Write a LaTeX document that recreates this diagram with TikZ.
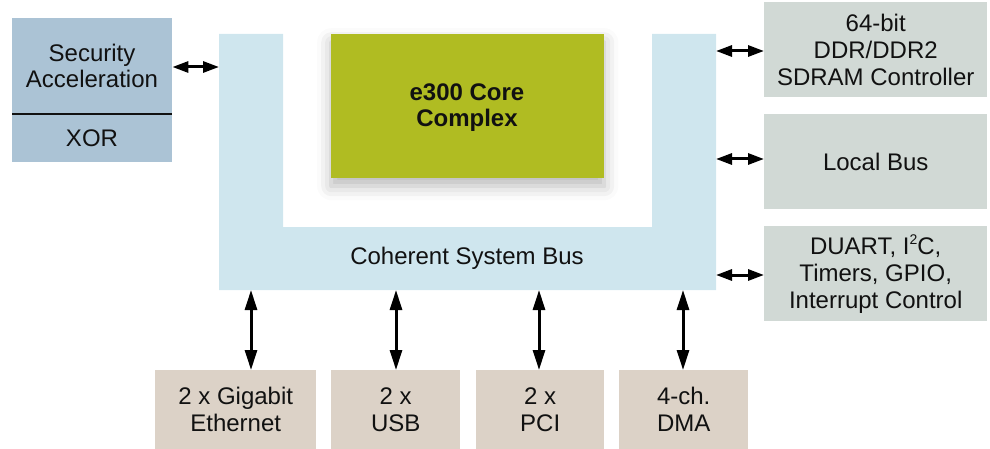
\documentclass[tikz,border=0pt]{standalone}
\usepackage{fontspec}
\setmainfont{Liberation Sans}
\usetikzlibrary{arrows.meta,shadows.blur}
\definecolor{secblue}{HTML}{ABC3D5}
\definecolor{buscol}{HTML}{CFE6EE}
\definecolor{corecol}{HTML}{B0BC22}
\definecolor{rightcol}{HTML}{D1D9D5}
\definecolor{botcol}{HTML}{DCD2C7}
\definecolor{txt}{HTML}{111111}
\newcommand{\mysup}[1]{\raisebox{0.42em}{\fontsize{14}{14}\selectfont #1}}
\tikzset{
  blk/.style={anchor=north west, inner sep=0pt, align=center, text=txt,
    font=\fontsize{24}{27}\selectfont},
  rbox/.style={blk, fill=rightcol, minimum width=223pt, minimum height=95pt},
  bbox/.style={blk, fill=botcol, minimum height=79pt},
  harrow/.style={line width=3pt, {Triangle[length=16pt,width=11pt]}-{Triangle[length=16pt,width=11pt]}},
  varrow/.style={line width=3pt, {Triangle[length=20pt,width=12pt]}-{Triangle[length=20pt,width=12pt]}},
}
\begin{document}
\begin{tikzpicture}[x=1pt,y=-1pt]
\useasboundingbox (0,0) rectangle (990,449);
% security block
\node[blk, fill=secblue, minimum width=160pt, minimum height=144pt] (sec) at (12,18) {};
\node[blk, anchor=center, font=\fontsize{24}{26}\selectfont] (sectxt) at (92,66) {Security\\Acceleration};
\node[blk, anchor=center] (xor) at (92,138) {XOR};
\draw[line width=2.7pt, txt] (sec.west |- 0,114) -- (sec.east |- 0,114);
% coherent system bus (U shape)
\fill[buscol] (219,34) -- (283,34) -- (283,227) -- (652,227) -- (652,34) -- (716,34)
  -- (716,290) -- (219,290) -- cycle;
\node[blk, anchor=center] (bus) at (467,258) {Coherent System Bus};
% core
\node[blk, fill=corecol, minimum width=273pt, minimum height=144pt,
  blur shadow={shadow xshift=0pt, shadow yshift=-8pt, shadow blur radius=14pt, shadow opacity=28}]
  (core) at (331,34) {};
\node[blk, anchor=center, font=\fontsize{24}{26}\bfseries\selectfont] (coretxt) at (467,108) {e300 Core\\Complex};
% right blocks
\node[rbox] (ddr) at (764,2) {64-bit\\DDR/DDR2\\SDRAM Controller};
\node[rbox] (lbus) at (764,114) {Local Bus};
\node[rbox] (duart) at (764,226) {DUART, I\mysup{2}C,\\Timers, GPIO,\\Interrupt Control};
% bottom blocks
\node[bbox, minimum width=161pt] (eth) at (155,370) {2 x Gigabit\\Ethernet};
\node[bbox, minimum width=129pt] (usb) at (331,370) {2 x\\USB};
\node[bbox, minimum width=128pt] (pci) at (476,370) {2 x\\PCI};
\node[bbox, minimum width=129pt] (dma) at (619,370) {4-ch.\\DMA};
% bus attachment points
\coordinate (busL) at (219,67);
\coordinate (busR1) at (716,51);
\coordinate (busR2) at (716,159);
\coordinate (busR3) at (716,275);
\coordinate (busB1) at (251,290);
\coordinate (busB2) at (396,290);
\coordinate (busB3) at (539,290);
\coordinate (busB4) at (683,290);
% connectors
\draw[harrow] (sec.east |- busL) -- (busL);
\draw[harrow] (busR1) -- (ddr.west |- busR1);
\draw[harrow] (busR2) -- (lbus.west |- busR2);
\draw[harrow] (busR3) -- (duart.west |- busR3);
\draw[varrow] (busB1) -- (busB1 |- eth.north);
\draw[varrow] (busB2) -- (busB2 |- usb.north);
\draw[varrow] (busB3) -- (busB3 |- pci.north);
\draw[varrow] (busB4) -- (busB4 |- dma.north);
\end{tikzpicture}
\end{document}
